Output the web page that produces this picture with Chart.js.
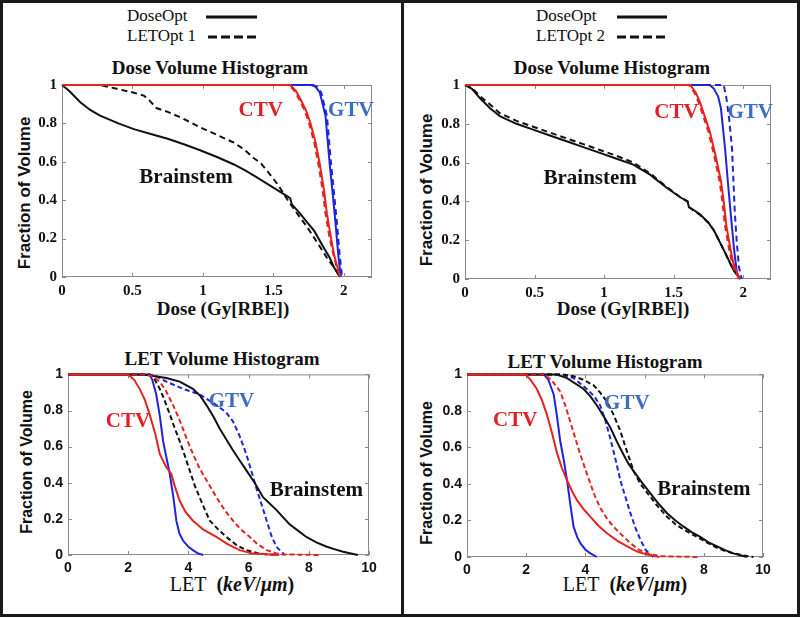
<!DOCTYPE html>
<html>
<head>
<meta charset="utf-8">
<script src="https://cdn.jsdelivr.net/npm/chart.js@4.4.1/dist/chart.umd.min.js"></script>
<style>
  body { margin: 0; background: #fff; }
  #page { position: relative; width: 800px; height: 618px; overflow: hidden; background: #fff; }
  .frame { position: absolute; left: 0; top: 0; width: 794px; height: 611px; border: 3px solid #1a1a1a; }
  .divider { position: absolute; left: 401px; top: 0; width: 3px; height: 617px; background: #1a1a1a; }
  canvas { position: absolute; }
  .t { position: absolute; white-space: nowrap; transform: translate(-50%, -50%); color: #111; }
  .title { font: bold 19px "Liberation Serif", serif; }
  .xt { font: bold 19px "Liberation Serif", serif; }
  .yt { font: bold 17px "Liberation Sans", Arial, sans-serif; transform: translate(-50%, -50%) rotate(-90deg); }
  .let { font: 20px "Liberation Serif", serif; }
  .leg { position: absolute; font: 17px "Liberation Serif", serif; color: #111; white-space: nowrap; }
  svg { position: absolute; overflow: visible; }
</style>
</head>
<body>
<div id="page">
  <div class="frame"></div>
  <div class="divider"></div>

  <!-- legends -->
  <div class="leg" style="left:127px; top:6px;">DoseOpt</div>
  <div class="leg" style="left:127px; top:26px;">LETOpt 1</div>
  <svg style="left:0; top:0;" width="400" height="50">
    <line x1="206" y1="17" x2="257" y2="17" stroke="#111" stroke-width="3"/>
    <line x1="208" y1="37" x2="259" y2="37" stroke="#111" stroke-width="3" stroke-dasharray="9 4 9 4 9 4 9 4 3 0"/>
  </svg>
  <div class="leg" style="left:536px; top:6px;">DoseOpt</div>
  <div class="leg" style="left:536px; top:26px;">LETOpt 2</div>
  <svg style="left:0; top:0;" width="800" height="50">
    <line x1="617" y1="17" x2="667" y2="17" stroke="#111" stroke-width="3"/>
    <line x1="617" y1="37" x2="668" y2="37" stroke="#111" stroke-width="3" stroke-dasharray="9 4 9 4 9 4 9 4 3 0"/>
  </svg>

  <!-- titles -->
  <div class="t title" style="left:210px; top:68px;">Dose Volume Histogram</div>
  <div class="t title" style="left:612px; top:68px;">Dose Volume Histogram</div>
  <div class="t title" style="left:222px; top:359px;">LET Volume Histogram</div>
  <div class="t title" style="left:605px; top:362px;">LET Volume Histogram</div>

  <!-- axis titles -->
  <div class="t xt" style="left:223px; top:309px;">Dose (Gy[RBE])</div>
  <div class="t xt" style="left:623px; top:309px;">Dose (Gy[RBE])</div>
  <div class="t let" style="left:232px; top:584px;">LET&nbsp;&nbsp;<b>(<i>keV</i>/<i>μm</i>)</b></div>
  <div class="t let" style="left:625px; top:584px;">LET&nbsp;&nbsp;<b>(<i>keV</i>/<i>μm</i>)</b></div>
  <div class="t yt" style="left:25px; top:193px;">Fraction of Volume</div>
  <div class="t yt" style="left:427px; top:190px;">Fraction of Volume</div>
  <div class="t yt" style="left:27px; top:462px; font-size:16px;">Fraction of Volume</div>
  <div class="t yt" style="left:427px; top:473px; font-size:16px;">Fraction of Volume</div>

  <canvas id="dvh1"></canvas>
  <canvas id="dvh2"></canvas>
  <canvas id="lvh1"></canvas>
  <canvas id="lvh2"></canvas>
</div>

<script>
// ---- data: [value, fraction of volume] ----
const doseTicks = [0, 0.5, 1, 1.5, 2]
const letTicks = [0, 2, 4, 6, 8, 10]
const volTicks = [0, 0.2, 0.4, 0.6, 0.8, 1]

// Dose volume histogram, DoseOpt vs LETOpt 1
const dvh1BrainDose = [[0,1],[0.05,0.97],[0.13,0.91],[0.2,0.87],[0.27,0.84],[0.4,0.8],[0.51,0.77],[0.63,0.745],[0.75,0.72],[0.87,0.69],[0.98,0.66],[1.1,0.625],[1.22,0.586],[1.3,0.555],[1.38,0.52],[1.5,0.466],[1.6,0.42],[1.62,0.41],[1.63,0.38],[1.69,0.33],[1.74,0.285],[1.79,0.24],[1.86,0.15],[1.9,0.1],[1.93,0.05],[1.96,0.015],[1.975,0]]
const dvh1BrainLet = [[0,1],[0.15,1],[0.27,1],[0.39,0.98],[0.51,0.96],[0.58,0.945],[0.62,0.92],[0.67,0.88],[0.75,0.86],[0.86,0.825],[0.98,0.78],[1.1,0.74],[1.22,0.7],[1.3,0.66],[1.36,0.62],[1.41,0.594],[1.47,0.54],[1.53,0.483],[1.62,0.38],[1.68,0.32],[1.74,0.26],[1.83,0.158],[1.88,0.1],[1.93,0.05],[1.975,0]]
const dvh1CtvDose = [[0,1],[1.62,1],[1.66,0.97],[1.69,0.93],[1.73,0.87],[1.76,0.81],[1.8,0.7],[1.83,0.586],[1.86,0.45],[1.88,0.33],[1.91,0.2],[1.93,0.12],[1.955,0.05],[1.975,0]]
const dvh1CtvLet = [[0,1],[1.61,1],[1.65,0.97],[1.68,0.93],[1.72,0.87],[1.75,0.81],[1.79,0.7],[1.82,0.586],[1.85,0.45],[1.87,0.33],[1.9,0.2],[1.925,0.12],[1.95,0.05],[1.975,0]]
const dvh1GtvDose = [[0,1],[1.77,1],[1.8,0.99],[1.83,0.96],[1.87,0.84],[1.9,0.586],[1.92,0.44],[1.94,0.29],[1.96,0.12],[1.975,0.02],[1.98,0]]
const dvh1GtvLet = [[0,1],[1.78,1],[1.81,0.99],[1.84,0.96],[1.88,0.84],[1.91,0.586],[1.93,0.44],[1.95,0.29],[1.97,0.12],[1.985,0.02],[1.99,0]]

// Dose volume histogram, DoseOpt vs LETOpt 2
const dvh2BrainDose = [[0,1],[0.05,0.98],[0.11,0.93],[0.18,0.88],[0.25,0.84],[0.37,0.8],[0.49,0.77],[0.61,0.74],[0.73,0.71],[0.85,0.68],[0.97,0.65],[1.09,0.62],[1.21,0.59],[1.33,0.538],[1.45,0.47],[1.55,0.42],[1.6,0.4],[1.61,0.37],[1.69,0.334],[1.75,0.29],[1.79,0.25],[1.86,0.15],[1.93,0.046],[1.98,0]]
const dvh2BrainLet = [[0,1],[0.05,0.985],[0.11,0.94],[0.18,0.9],[0.25,0.855],[0.37,0.815],[0.49,0.785],[0.61,0.755],[0.73,0.725],[0.85,0.695],[0.97,0.665],[1.09,0.635],[1.21,0.6],[1.33,0.545],[1.45,0.475],[1.55,0.42],[1.6,0.4],[1.61,0.37],[1.69,0.33],[1.75,0.29],[1.79,0.25],[1.86,0.15],[1.93,0.046],[1.98,0]]
const dvh2CtvDose = [[0,1],[1.62,1],[1.66,0.96],[1.69,0.91],[1.76,0.76],[1.8,0.64],[1.84,0.506],[1.86,0.4],[1.88,0.27],[1.91,0.15],[1.93,0.08],[1.96,0.025],[1.98,0]]
const dvh2CtvLet = [[0,1],[1.61,1],[1.65,0.96],[1.68,0.91],[1.75,0.76],[1.79,0.64],[1.83,0.506],[1.85,0.4],[1.87,0.27],[1.9,0.15],[1.92,0.08],[1.95,0.025],[1.975,0]]
const dvh2GtvDose = [[0,1],[1.76,1],[1.79,0.98],[1.82,0.94],[1.84,0.88],[1.87,0.67],[1.89,0.5],[1.91,0.34],[1.935,0.15],[1.955,0.03],[1.97,0]]
const dvh2GtvLet = [[0,1],[1.86,1],[1.88,0.93],[1.9,0.82],[1.92,0.67],[1.94,0.34],[1.955,0.18],[1.97,0.06],[1.99,0]]

// LET volume histogram, DoseOpt vs LETOpt 1
const lvh1CtvDose = [[0,1],[2,1],[2.2,0.97],[2.38,0.92],[2.55,0.86],[2.71,0.78],[2.9,0.67],[3.05,0.56],[3.25,0.49],[3.43,0.45],[3.55,0.38],[3.71,0.3],[3.9,0.24],[4.15,0.19],[4.5,0.14],[4.93,0.1],[5.3,0.06],[5.7,0.027],[6.1,0.01],[6.6,0.004],[7,0]]
const lvh1CtvLet = [[0,1],[2.6,1],[2.8,0.99],[3.05,0.96],[3.25,0.91],[3.49,0.83],[3.7,0.75],[3.93,0.65],[4.15,0.56],[4.37,0.48],[4.65,0.4],[4.93,0.32],[5.2,0.25],[5.48,0.19],[5.75,0.14],[6.04,0.1],[6.3,0.06],[6.6,0.027],[6.9,0.01],[7.14,0.003],[8.4,0]]
const lvh1GtvDose = [[0,1],[2.71,1],[2.8,0.97],[2.93,0.89],[3.05,0.77],[3.16,0.63],[3.27,0.54],[3.38,0.45],[3.5,0.32],[3.6,0.19],[3.7,0.12],[3.82,0.08],[4,0.045],[4.15,0.027],[4.3,0.01],[4.49,0]]
const lvh1GtvLet = [[0,1],[2.7,1],[2.93,0.99],[3.27,0.96],[3.82,0.92],[4.37,0.89],[4.93,0.83],[5.25,0.79],[5.48,0.74],[5.7,0.66],[5.92,0.56],[6.1,0.46],[6.26,0.37],[6.43,0.28],[6.6,0.19],[6.75,0.11],[6.92,0.046],[7.2,0]]
const lvh1BrainDose = [[0,1],[2.5,1],[3.27,0.98],[3.71,0.96],[4.15,0.92],[4.4,0.88],[4.6,0.83],[4.82,0.77],[5.04,0.7],[5.26,0.64],[5.48,0.58],[5.7,0.525],[5.92,0.47],[6.2,0.4],[6.48,0.32],[6.7,0.285],[6.92,0.25],[7.14,0.21],[7.36,0.17],[7.64,0.135],[7.92,0.1],[8.25,0.07],[8.6,0.046],[8.9,0.03],[9.14,0.018],[9.4,0.008],[9.63,0]]
const lvh1BrainLet = [[0,1],[2.7,1],[2.85,0.98],[3.05,0.92],[3.2,0.86],[3.38,0.78],[3.55,0.7],[3.71,0.63],[3.88,0.55],[4.04,0.47],[4.2,0.39],[4.37,0.32],[4.55,0.25],[4.71,0.19],[5,0.14],[5.26,0.1],[5.6,0.055],[5.92,0.027],[6.3,0.01],[6.6,0.003],[7,0]]

// LET volume histogram, DoseOpt vs LETOpt 2
const lvh2CtvDose = [[0,1],[1.97,1],[2.15,0.97],[2.36,0.92],[2.53,0.86],[2.7,0.78],[2.87,0.68],[3.04,0.57],[3.2,0.49],[3.38,0.42],[3.55,0.36],[3.72,0.31],[3.95,0.26],[4.17,0.22],[4.45,0.17],[4.73,0.13],[5.07,0.09],[5.41,0.058],[5.75,0.03],[6.08,0.013],[6.5,0]]
const lvh2CtvLet = [[0,1],[2.6,1],[2.85,0.97],[3.15,0.906],[3.32,0.83],[3.49,0.74],[3.66,0.65],[3.83,0.56],[4,0.48],[4.17,0.4],[4.33,0.33],[4.5,0.27],[4.73,0.21],[4.95,0.166],[5.23,0.12],[5.52,0.076],[5.8,0.04],[6.08,0.02],[6.53,0.004],[7.8,0]]
const lvh2GtvDose = [[0,1],[2.6,1],[2.75,0.97],[2.93,0.89],[3.04,0.77],[3.15,0.635],[3.27,0.53],[3.38,0.42],[3.49,0.29],[3.6,0.166],[3.72,0.11],[3.83,0.076],[4,0.04],[4.17,0.02],[4.39,0]]
const lvh2GtvLet = [[0,1],[3.15,1],[3.6,0.98],[4.05,0.92],[4.3,0.88],[4.5,0.83],[4.67,0.75],[4.84,0.65],[5.01,0.54],[5.18,0.42],[5.35,0.33],[5.52,0.24],[5.69,0.16],[5.86,0.094],[6.03,0.04],[6.19,0.013],[6.3,0]]
const lvh2BrainDose = [[0,1],[3,1],[3.38,0.98],[3.94,0.92],[4.17,0.88],[4.39,0.83],[4.62,0.77],[4.84,0.71],[5.07,0.63],[5.29,0.56],[5.46,0.51],[5.63,0.47],[5.9,0.41],[6.19,0.35],[6.48,0.29],[6.76,0.24],[7.04,0.2],[7.32,0.166],[7.6,0.135],[7.88,0.11],[8.16,0.08],[8.45,0.058],[8.72,0.038],[9,0.02],[9.23,0.01],[9.46,0]]
const lvh2BrainLet = [[0,1],[3.2,1],[3.6,0.99],[3.94,0.97],[4.28,0.94],[4.5,0.9],[4.73,0.85],[4.95,0.78],[5.18,0.69],[5.4,0.58],[5.63,0.47],[5.86,0.4],[6.19,0.33],[6.48,0.27],[6.76,0.22],[7.04,0.18],[7.32,0.15],[7.6,0.125],[7.88,0.1],[8.16,0.075],[8.45,0.05],[8.72,0.033],[9,0.02],[9.3,0.01],[9.68,0]]

// in-plot labels: [text, x, y, colour]
const dvh1Notes = [['CTV', 1.41, 0.865, '#e41e26'], ['GTV', 2.05, 0.865, '#3d6cc4'], ['Brainstem', 0.88, 0.517, '#111']]
const dvh2Notes = [['CTV', 1.52, 0.857, '#e41e26'], ['GTV', 2.05, 0.857, '#3d6cc4'], ['Brainstem', 0.9, 0.518, '#111']]
const lvh1Notes = [['CTV', 1.99, 0.74, '#e41e26'], ['GTV', 5.43, 0.85, '#3d6cc4'], ['Brainstem', 8.25, 0.357, '#111']]
const lvh2Notes = [['CTV', 1.63, 0.747, '#e41e26'], ['GTV', 5.4, 0.84, '#3d6cc4'], ['Brainstem', 8.0, 0.37, '#111']]

const RED = '#e3241f', BLUE = '#1f24dc', BLACK = '#111'

// box + inward tick marks like matlab axes
const boxPlugin = {
  id: 'box',
  beforeDatasetsDraw(chart) {
    const {ctx, chartArea: a, scales: {x, y}} = chart
    ctx.save()
    ctx.strokeStyle = '#8a8a8a'
    ctx.lineWidth = 1
    ctx.strokeRect(a.left + 0.5, a.top + 0.5, a.width - 1, a.height - 1)
    ctx.beginPath()
    x.ticks.forEach(t => {
      const px = Math.round(x.getPixelForValue(t.value)) + 0.5
      ctx.moveTo(px, a.bottom); ctx.lineTo(px, a.bottom - 4)
      ctx.moveTo(px, a.top); ctx.lineTo(px, a.top + 4)
    })
    y.ticks.forEach(t => {
      const py = Math.round(y.getPixelForValue(t.value)) + 0.5
      ctx.moveTo(a.left, py); ctx.lineTo(a.left + 4, py)
      ctx.moveTo(a.right, py); ctx.lineTo(a.right - 4, py)
    })
    ctx.stroke()
    ctx.restore()
  }
}

const notesPlugin = {
  id: 'notes',
  afterDatasetsDraw(chart, args, opts) {
    const {ctx, scales: {x, y}} = chart
    ctx.save()
    ctx.font = 'bold 21px "Liberation Serif", serif'
    ctx.textAlign = 'center'
    ctx.textBaseline = 'middle'
    opts.items.forEach(([txt, vx, vy, col]) => {
      ctx.fillStyle = col
      ctx.fillText(txt, x.getPixelForValue(vx), y.getPixelForValue(vy))
    })
    ctx.restore()
  }
}

let pts = arr => arr.map(p => ({x: p[0], y: p[1]}))

function line(data, color, dashed, dash) {
  return {
    data: pts(data),
    borderColor: color,
    borderWidth: 2,
    borderDash: dashed ? dash : [],
    pointRadius: 0,
    showLine: true,
    tension: 0,
    clip: false
  }
}

function makeChart(id, area, xMax, xTicks, tickFont, sets, notes) {
  const padL = 50, padT = 12, padR = 24, padB = 26
  const cv = document.getElementById(id)
  cv.width = area.r - area.l + padL + padR
  cv.height = area.b - area.t + padT + padB
  cv.style.left = (area.l - padL) + 'px'
  cv.style.top = (area.t - padT) + 'px'
  return new Chart(cv, {
    type: 'scatter',
    data: {datasets: sets},
    options: {
      responsive: false,
      animation: false,
      events: [],
      layout: {padding: {left: 0, top: padT, right: padR, bottom: 0}},
      plugins: {legend: {display: false}, tooltip: {enabled: false}, notes: {items: notes}},
      scales: {
        x: {
          type: 'linear', min: 0, max: xMax,
          grid: {display: false, drawTicks: false}, border: {display: false},
          afterBuildTicks: s => { s.ticks = xTicks.map(v => ({value: v})) },
          afterFit: s => { s.height = padB },
          ticks: {font: tickFont, color: '#111', padding: 5, autoSkip: false, maxRotation: 0,
                  callback: v => String(v)}
        },
        y: {
          type: 'linear', min: 0, max: 1,
          grid: {display: false, drawTicks: false}, border: {display: false},
          afterBuildTicks: s => { s.ticks = volTicks.map(v => ({value: v})) },
          afterFit: s => { s.width = padL },
          ticks: {font: tickFont, color: '#111', padding: 5, autoSkip: false,
                  callback: v => String(+v.toFixed(1))}
        }
      }
    },
    plugins: [boxPlugin, notesPlugin]
  })
}

const serifTick = {family: '"Liberation Serif", serif', weight: 'bold', size: 15}
const sansTick = {family: '"Liberation Sans", Arial, sans-serif', weight: 'bold', size: 14}

const dDash = [6, 4], lDash = [5, 3]

makeChart('dvh1', {l: 62, t: 83, r: 372, b: 277}, 2.2, doseTicks, serifTick, [
  line(dvh1CtvDose, RED, false), line(dvh1CtvLet, RED, true, dDash),
  line(dvh1BrainDose, BLACK, false), line(dvh1BrainLet, BLACK, true, dDash),
  line(dvh1GtvDose, BLUE, false), line(dvh1GtvLet, BLUE, true, dDash)
], dvh1Notes)

makeChart('dvh2', {l: 465, t: 83, r: 771, b: 279}, 2.2, doseTicks, serifTick, [
  line(dvh2CtvDose, RED, false), line(dvh2CtvLet, RED, true, dDash),
  line(dvh2BrainDose, BLACK, false), line(dvh2BrainLet, BLACK, true, dDash),
  line(dvh2GtvDose, BLUE, false), line(dvh2GtvLet, BLUE, true, dDash)
], dvh2Notes)

makeChart('lvh1', {l: 68, t: 373, r: 369, b: 555}, 10, letTicks, sansTick, [
  line(lvh1CtvDose, RED, false), line(lvh1CtvLet, RED, true, lDash),
  line(lvh1BrainDose, BLACK, false), line(lvh1BrainLet, BLACK, true, lDash),
  line(lvh1GtvDose, BLUE, false), line(lvh1GtvLet, BLUE, true, lDash)
], lvh1Notes)

makeChart('lvh2', {l: 467, t: 373, r: 763, b: 557}, 10, letTicks, sansTick, [
  line(lvh2CtvDose, RED, false), line(lvh2CtvLet, RED, true, lDash),
  line(lvh2BrainDose, BLACK, false), line(lvh2BrainLet, BLACK, true, lDash),
  line(lvh2GtvDose, BLUE, false), line(lvh2GtvLet, BLUE, true, lDash)
], lvh2Notes)
</script>
</body>
</html>
